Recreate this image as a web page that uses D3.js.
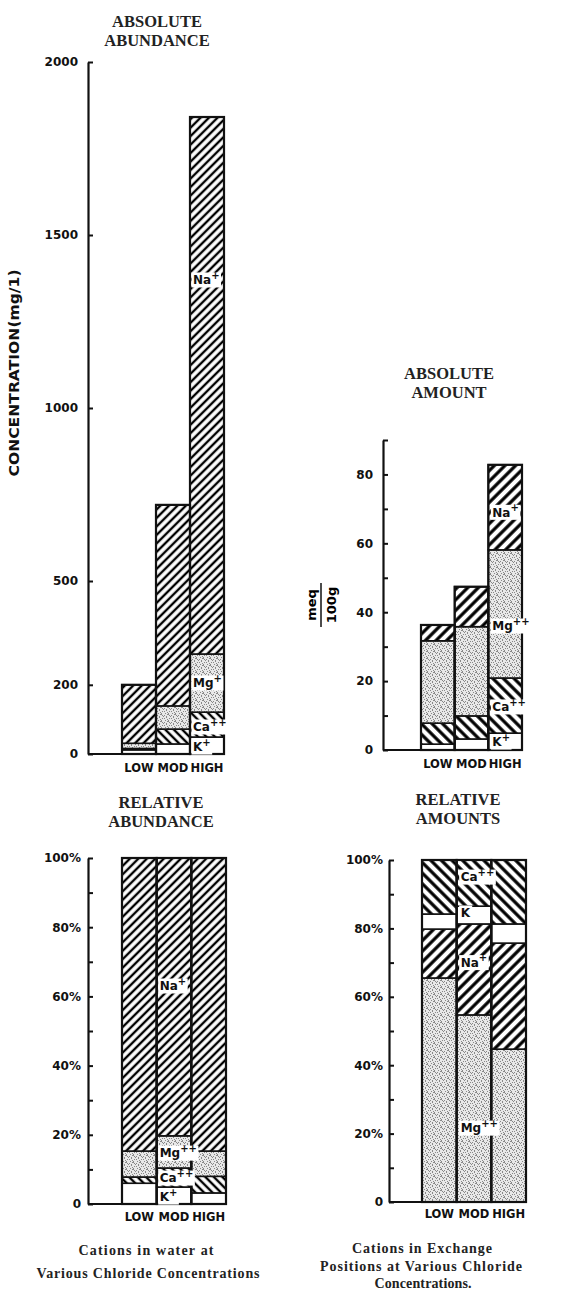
<!DOCTYPE html>
<html><head><meta charset="utf-8">
<script src="https://cdn.jsdelivr.net/npm/d3@7/dist/d3.min.js"></script>
<style>
html,body{margin:0;padding:0;background:#fff;}
svg{display:block;}
.title{font-family:"Liberation Serif","Times New Roman",serif;font-size:16.5px;font-weight:bold;text-anchor:middle;fill:#222;}
.tick text{font-family:"DejaVu Sans",sans-serif;font-weight:bold;font-size:12px;fill:#111;}
.cat{font-family:"DejaVu Sans",sans-serif;font-weight:bold;font-size:11.5px;fill:#111;text-anchor:middle;}
.lbl{font-family:"DejaVu Sans",sans-serif;font-weight:bold;font-size:12px;fill:#111;}
.cap{font-family:"Liberation Serif","Times New Roman",serif;font-size:14px;font-weight:bold;fill:#222;text-anchor:middle;}
</style></head>
<body><div id="chart"></div>
<script>
// ---------------- DATA ----------------
const categories = ["LOW", "MOD", "HIGH"];
const waterIons = ["K", "Ca", "Mg", "Na"];            // stacking order, bottom to top
const exchAbsIons = ["K", "Ca", "Mg", "Na"];
const exchRelIons = ["Mg", "Na", "K", "Ca"];

// Absolute abundance in water (mg/l)
const absWaterK  = [12, 29, 49];
const absWaterCa = [4, 43, 72];
const absWaterMg = [15, 67, 168];
const absWaterNa = [169, 581, 1552];
const absWaterTicks = [0, 200, 500, 1000, 1500, 2000];

// Relative abundance in water (%)
const relWaterK  = [6.0, 4.9, 3.2];
const relWaterCa = [1.8, 5.5, 4.8];
const relWaterMg = [7.5, 9.3, 7.3];
const relWaterNa = [84.7, 80.3, 84.7];

// Absolute amount in exchange positions (meq/100g)
const absExchK  = [1.7, 3.2, 4.9];
const absExchCa = [6.1, 6.7, 16.0];
const absExchMg = [23.9, 25.9, 37.2];
const absExchNa = [4.6, 11.6, 24.7];
const absExchTicks = [0, 10, 20, 30, 40, 50, 60, 70, 80, 90];
const absExchLabels = [0, 20, 40, 60, 80];

// Relative amounts in exchange positions (%)
const relExchMg = [65.5, 54.7, 44.7];
const relExchNa = [14.3, 26.6, 31.0];
const relExchK  = [4.4, 5.2, 5.6];
const relExchCa = [15.8, 13.5, 18.7];
const pctTicks = [0, 10, 20, 30, 40, 50, 60, 70, 80, 90, 100];
const pctLabels = [0, 20, 40, 60, 80, 100];

// In-bar ion labels: category, ion, superscript, value position on the y scale
const labelsAbsWater = [
  {cat: "HIGH", ion: "Na", sup: "+",  v: 1370},
  {cat: "HIGH", ion: "Mg", sup: "+",  v: 205},
  {cat: "HIGH", ion: "Ca", sup: "++", v: 78},
  {cat: "HIGH", ion: "K",  sup: "+",  v: 20}
];
const labelsAbsExch = [
  {cat: "HIGH", ion: "Na", sup: "+",  v: 69},
  {cat: "HIGH", ion: "Mg", sup: "++", v: 36},
  {cat: "HIGH", ion: "Ca", sup: "++", v: 12.5},
  {cat: "HIGH", ion: "K",  sup: "+",  v: 2.3}
];
const labelsRelWater = [
  {cat: "MOD", ion: "Na", sup: "+",  v: 63},
  {cat: "MOD", ion: "Mg", sup: "++", v: 14.7},
  {cat: "MOD", ion: "Ca", sup: "++", v: 7.5},
  {cat: "MOD", ion: "K",  sup: "+",  v: 2.0}
];
const labelsRelExch = [
  {cat: "MOD", ion: "Ca", sup: "++", v: 95},
  {cat: "MOD", ion: "K",  sup: "",   v: 84.5},
  {cat: "MOD", ion: "Na", sup: "+",  v: 70},
  {cat: "MOD", ion: "Mg", sup: "++", v: 21.6}
];

function rows(ions, arrs) {
  return categories.map((c, i) => {
    const r = {cat: c};
    ions.forEach((ion, j) => r[ion] = arrs[j][i]);
    return r;
  });
}

// ---------------- SVG ----------------
const W = 577, H = 1294;
const svg = d3.select("#chart").append("svg").attr("width", W).attr("height", H);
const defs = svg.append("defs");

function hatch(id, spacing, angle, sw) {
  const p = defs.append("pattern").attr("id", id).attr("patternUnits", "userSpaceOnUse")
    .attr("width", spacing).attr("height", spacing)
    .attr("patternTransform", `rotate(${angle})`);
  p.append("rect").attr("width", spacing).attr("height", spacing).attr("fill", "#fff");
  p.append("line").attr("x1", spacing / 2).attr("x2", spacing / 2).attr("y1", -1).attr("y2", spacing + 1)
    .attr("stroke", "#000").attr("stroke-width", sw);
}
hatch("naFine", 6, 45, 2.4);
hatch("caFine", 6, -45, 2.4);
hatch("naCoarse", 7.5, 45, 3.2);
hatch("caCoarse", 7.5, -45, 3.2);

// stipple
const st = defs.append("pattern").attr("id", "stip").attr("patternUnits", "userSpaceOnUse")
  .attr("width", 7).attr("height", 7);
st.append("rect").attr("width", 7).attr("height", 7).attr("fill", "#e8e8e8");
[[0,0],[3,1],[5,3],[1,4],[4,6],[2,2],[6,0],[0,6],[6,5],[3,4],[1,1],[5,2]].forEach(([x, y]) =>
  st.append("rect").attr("x", x).attr("y", y).attr("width", 1).attr("height", 1).attr("fill", "#888"));

function fills(kind) {
  return kind === "fine"
    ? {Na: "url(#naFine)", Ca: "url(#caFine)", Mg: "url(#stip)", K: "#fff"}
    : {Na: "url(#naCoarse)", Ca: "url(#caCoarse)", Mg: "url(#stip)", K: "#fff"};
}

function drawChart(cfg) {
  const g = svg.append("g");
  const x = d3.scaleBand().domain(categories).range(cfg.band).padding(0);
  const y = d3.scaleLinear().domain(cfg.domain).range(cfg.yRange);
  const data = rows(cfg.ions, cfg.arrays);
  const series = d3.stack().keys(cfg.ions)(data);
  const f = fills(cfg.pattern);

  // baseline
  g.append("line").attr("x1", cfg.axisX).attr("x2", cfg.band[1]).attr("y1", y(0)).attr("y2", y(0))
    .attr("stroke", "#111").attr("stroke-width", 2);

  // segments
  series.forEach(s => {
    g.append("g").selectAll("rect").data(s).join("rect")
      .attr("x", d => x(d.data.cat))
      .attr("width", x.bandwidth())
      .attr("y", d => y(d[1]))
      .attr("height", d => y(d[0]) - y(d[1]))
      .attr("fill", f[s.key])
      .attr("stroke", "#111").attr("stroke-width", 1.6);
  });
  // bar outlines
  g.append("g").selectAll("rect").data(data).join("rect")
    .attr("x", d => x(d.cat)).attr("width", x.bandwidth())
    .attr("y", d => y(d3.sum(cfg.ions, k => d[k])))
    .attr("height", d => y(0) - y(d3.sum(cfg.ions, k => d[k])))
    .attr("fill", "none").attr("stroke", "#111").attr("stroke-width", 2.2);

  // axis
  const ax = d3.axisLeft(y).tickValues(cfg.ticks).tickSizeInner(-5).tickSizeOuter(0)
    .tickPadding(cfg.pad).tickFormat(d => cfg.labels.includes(d) ? cfg.fmt(d) : "");
  const ag = g.append("g").attr("transform", `translate(${cfg.axisX},0)`).call(ax);
  ag.select(".domain").attr("stroke", "#111").attr("stroke-width", 2.2);
  ag.selectAll(".tick line").attr("stroke", "#111").attr("stroke-width", 2);

  // category labels
  g.append("g").selectAll("text").data(categories).join("text")
    .attr("class", "cat").attr("x", d => x(d) + x.bandwidth() / 2).attr("y", cfg.catY).text(d => d);

  // title
  cfg.title.forEach((t, i) =>
    g.append("text").attr("class", "title").attr("x", cfg.titleX).attr("y", cfg.titleY[i]).text(t));

  // in-bar labels
  cfg.ionLabels.forEach(l => {
    const t = g.append("text").attr("class", "lbl")
      .attr("x", x(l.cat) + cfg.lblDx).attr("y", y(l.v)).attr("dy", "0.36em");
    t.append("tspan").text(l.ion);
    if (l.sup) t.append("tspan").attr("dy", "-0.55em").attr("font-size", "10px").text(l.sup);
    const bb = t.node().getBBox();
    g.insert("rect", function () { return t.node(); })
      .attr("x", bb.x - 1.5).attr("y", y(l.v) - 7.5).attr("width", bb.width + 3).attr("height", 15)
      .attr("fill", "#fff");
  });
  return {x, y};
}

drawChart({
  ions: waterIons, arrays: [absWaterK, absWaterCa, absWaterMg, absWaterNa],
  band: [122, 224], domain: [0, 2000], yRange: [754, 62], axisX: 88,
  ticks: absWaterTicks, labels: absWaterTicks, fmt: d => d, pad: 10, pattern: "fine",
  catY: 772, title: ["ABSOLUTE", "ABUNDANCE"], titleX: 157, titleY: [27, 46],
  ionLabels: labelsAbsWater, lblDx: 3
});

drawChart({
  ions: exchAbsIons, arrays: [absExchK, absExchCa, absExchMg, absExchNa],
  band: [421, 522], domain: [0, 90], yRange: [750, 440], axisX: 383,
  ticks: absExchTicks, labels: absExchLabels, fmt: d => d, pad: 10, pattern: "coarse",
  catY: 768, title: ["ABSOLUTE", "AMOUNT"], titleX: 449, titleY: [379, 398],
  ionLabels: labelsAbsExch, lblDx: 4
});

drawChart({
  ions: waterIons, arrays: [relWaterK, relWaterCa, relWaterMg, relWaterNa],
  band: [122, 226], domain: [0, 100], yRange: [1204, 858], axisX: 88,
  ticks: pctTicks, labels: pctLabels, fmt: d => d === 0 ? "0" : d + "%", pad: 7, pattern: "fine",
  catY: 1221, title: ["RELATIVE", "ABUNDANCE"], titleX: 161, titleY: [808, 827],
  ionLabels: labelsRelWater, lblDx: 3
});

drawChart({
  ions: exchRelIons, arrays: [relExchMg, relExchNa, relExchK, relExchCa],
  band: [422, 526], domain: [0, 100], yRange: [1202, 860], axisX: 389,
  ticks: pctTicks, labels: pctLabels, fmt: d => d === 0 ? "0" : d + "%", pad: 6, pattern: "coarse",
  catY: 1218, title: ["RELATIVE", "AMOUNTS"], titleX: 458, titleY: [805, 824],
  ionLabels: labelsRelExch, lblDx: 4
});

// y-axis titles
svg.append("text").attr("transform", "translate(19,373) rotate(-90)")
  .attr("text-anchor", "middle").style("font-family", "DejaVu Sans,sans-serif").style("font-weight", "bold")
  .style("font-size", "14px").attr("fill", "#111")
  .attr("textLength", 207).attr("lengthAdjust", "spacingAndGlyphs").text("CONCENTRATION(mg/1)");
const fr = svg.append("g").attr("transform", "translate(321,605) rotate(-90)");
fr.append("text").attr("x", 0).attr("y", -5).attr("text-anchor", "middle")
  .style("font-family", "DejaVu Sans,sans-serif").style("font-weight", "bold").style("font-size", "13px").text("meq");
fr.append("line").attr("x1", -22).attr("x2", 22).attr("y1", 0).attr("y2", 0).attr("stroke", "#111").attr("stroke-width", 1.5);
fr.append("text").attr("x", 0).attr("y", 15).attr("text-anchor", "middle")
  .style("font-family", "DejaVu Sans,sans-serif").style("font-weight", "bold").style("font-size", "13px").text("100g");

// captions
const caps = [
  {x: 146, y: 1255, t: "Cations in water at", w: 135},
  {x: 148, y: 1278, t: "Various Chloride Concentrations", w: 223},
  {x: 422, y: 1253, t: "Cations in Exchange", w: 140},
  {x: 421, y: 1271, t: "Positions at Various Chloride", w: 202},
  {x: 423, y: 1288, t: "Concentrations.", w: 97}
];
caps.forEach(c => svg.append("text").attr("class", "cap").attr("x", c.x).attr("y", c.y)
  .attr("textLength", c.w).attr("lengthAdjust", "spacing").text(c.t));
</script>
</body></html>
